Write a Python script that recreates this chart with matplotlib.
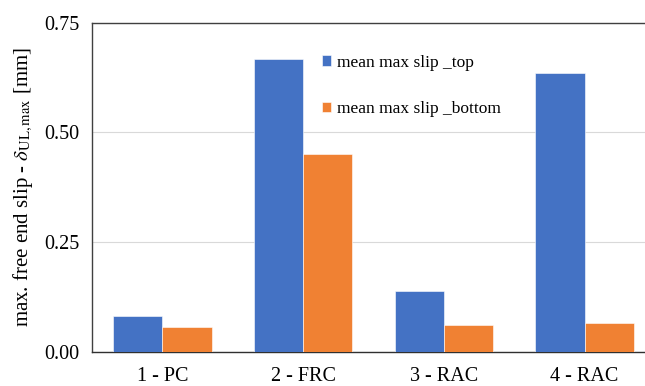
import numpy as np
import matplotlib.pyplot as plt

plt.rcParams['font.family'] = ['Liberation Serif', 'DejaVu Serif']
plt.rcParams['mathtext.fontset'] = 'stix'

categories = ["1 - PC", "2 - FRC", "3 - RAC", "4 - RAC"]
slip_top = [0.081, 0.667, 0.139, 0.635]
slip_bottom = [0.056, 0.451, 0.060, 0.066]

fig = plt.figure(figsize=(6.45, 3.86), dpi=100)
# axes run a little past the right edge, as in the cropped original
ax = fig.add_axes([92 / 645, 1 - 351.7 / 386, 563 / 645, 329 / 386])

x = np.arange(len(categories))
w = 0.35
ax.bar(x - w / 2, slip_top, w, color="#4472C4", edgecolor="white", linewidth=0.4,
       label="mean max slip _top", zorder=3)
ax.bar(x + w / 2, slip_bottom, w, color="#F08133", edgecolor="white", linewidth=0.4,
       label="mean max slip _bottom", zorder=3)

ax.set_xlim(-0.5, len(categories) - 0.5)
ax.set_ylim(0, 0.75)
ax.set_yticks([0, 0.25, 0.5, 0.75])
ax.set_yticklabels(["0.00", "0.25", "0.50", "0.75"])
ax.set_xticks(x)
ax.set_xticklabels(categories)
ax.tick_params(length=0, labelsize=14.5, pad=9)
ax.tick_params(axis="x", pad=11)
ax.grid(axis="y", color="#D9D9D9", linewidth=0.8, zorder=0)

for s in ["left", "top", "right"]:
    ax.spines[s].set_color("#404040")
    ax.spines[s].set_linewidth(1.0)
ax.spines["bottom"].set_color("#303030")
ax.spines["bottom"].set_linewidth(1.0)

ax.set_ylabel(r"max. free end slip - $\delta_{\mathrm{UL,max}}$ [mm]", fontsize=15, labelpad=7)

ax.legend(loc="upper left", bbox_to_anchor=(0.38, 0.95), frameon=False, fontsize=12.5,
          handlelength=0.55, handleheight=0.55, handletextpad=0.35, labelspacing=1.75)

fig.savefig("out.png", dpi=100)
